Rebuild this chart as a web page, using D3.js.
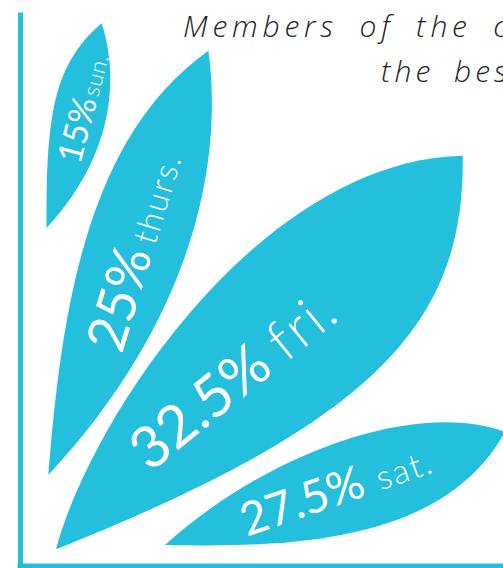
<!DOCTYPE html>
<html>
<head>
<meta charset="utf-8">
<script src="https://cdn.jsdelivr.net/npm/d3@7"></script>
<style>
  html, body { margin: 0; padding: 0; background: #fff; }
  svg { display: block; }
</style>
</head>
<body>
<svg id="chart" width="503" height="568"></svg>
<script>
// ---- data ----
const days = ["sun.", "thurs.", "fri.", "sat."];
const shares = [15, 25, 32.5, 27.5];
const titleLines = ["Members of the community voted", "the best day to visit"];

// ---- layout ----
const leafBase = [[26.5, 338], [28.3, 91], [36, 16.7], [145, 21]];
const leafTip  = [[81.7, 542.7], [188.3, 515.3], [442.7, 410.3], [485, 134]];
const leafSideA = [[[0.491, 0.135], [0.749, 0.175]], [[0.372, 0.108], [0.734, 0.1785]],
                   [[0.202, 0.1224], [0.7374, 0.2436]], [[0.3617, 0.1592], [0.803, 0.1596]]];
const leafSideB = [[[0.868, -0.0858], [0.501, -0.263]], [[0.8646, -0.0739], [0.515, -0.2103]],
                   [[0.801, -0.2114], [0.570, -0.234]], [[0.746, -0.2332], [0.355, -0.1268]]];
const labelAt   = [[0.328, -0.075, -75], [0.305, -0.058, -73], [0.213, -0.0186, -39], [0.2237, -0.05, -19]];
const numSize   = [34, 54, 58, 46];
const daySize   = [23, 33, 56, 34];
const dayGap    = [3, 8, 14, 14];

const W = 503, H = 568;
const COLOR = "#23bfdc";
const svg = d3.select("#chart");

const x = d3.scaleLinear().domain([0, 500]).range([20, 520]);
const y = d3.scaleLinear().domain([0, 560]).range([566, 6]);

const gx = svg.append("g").attr("transform", `translate(0,${y(0)})`)
  .call(d3.axisBottom(x).tickValues([]).tickSizeOuter(0));
const gy = svg.append("g").attr("transform", `translate(${x(0)},0)`)
  .call(d3.axisLeft(y.copy().domain([0, 554]).range([566, 12])).tickValues([]).tickSizeOuter(0));
[gx, gy].forEach(g => g.select(".domain").attr("stroke", COLOR).attr("stroke-width", 5));
gx.select(".domain").attr("d", `M${x(0) - 2.5},0H${W + 5}`);

const leaves = days.map((d, i) => {
  const B = [x(leafBase[i][0]), y(leafBase[i][1])];
  const T = [x(leafTip[i][0]), y(leafTip[i][1])];
  const dx = T[0] - B[0], dy = T[1] - B[1];
  const P = ([u, v]) => [B[0] + u * dx + v * dy, B[1] + u * dy - v * dx];
  return { day: d, share: shares[i], B, T, P, i };
});

const path = l => {
  const p = d3.path();
  const a1 = l.P(leafSideA[l.i][0]), a2 = l.P(leafSideA[l.i][1]);
  const b1 = l.P(leafSideB[l.i][0]), b2 = l.P(leafSideB[l.i][1]);
  p.moveTo(l.B[0], l.B[1]);
  p.bezierCurveTo(a1[0], a1[1], a2[0], a2[1], l.T[0], l.T[1]);
  p.bezierCurveTo(b1[0], b1[1], b2[0], b2[1], l.B[0], l.B[1]);
  p.closePath();
  return p.toString();
};

svg.append("g").selectAll("path").data(leaves).join("path")
  .attr("d", path).attr("fill", COLOR);

const lab = svg.append("g").selectAll("g").data(leaves).join("g")
  .attr("transform", l => {
    const [u, v, r] = labelAt[l.i];
    const p = l.P([u, v]);
    return `translate(${p[0]},${p[1]}) rotate(${r})`;
  });
lab.append("text")
  .attr("class", "num")
  .attr("font-family", "Lato")
  .attr("font-weight", 400)
  .attr("font-size", l => numSize[l.i])
  .attr("fill", "#fff")
  .text(l => `${l.share}%`);
lab.append("text")
  .attr("font-family", "Lato")
  .attr("font-weight", 300)
  .attr("letter-spacing", l => l.i === 0 ? 0.5 : 2)
  .attr("font-size", l => daySize[l.i])
  .attr("fill", "#fff")
  .attr("x", function (l) {
    const n = this.parentNode.querySelector("text.num");
    return n.getComputedTextLength() + dayGap[l.i];
  })
  .text(l => l.day);

const title = svg.append("g")
  .attr("font-family", "Open Sans")
  .attr("font-style", "italic")
  .attr("font-weight", 300)
  .attr("font-size", 30)
  .attr("fill", "#222");
title.append("text").attr("x", 183).attr("y", 37)
  .attr("letter-spacing", 4.8).attr("word-spacing", 9).text(titleLines[0]);
title.append("text").attr("x", 381).attr("y", 82)
  .attr("letter-spacing", 4).attr("word-spacing", 8).text(titleLines[1]);
</script>
</body>
</html>
